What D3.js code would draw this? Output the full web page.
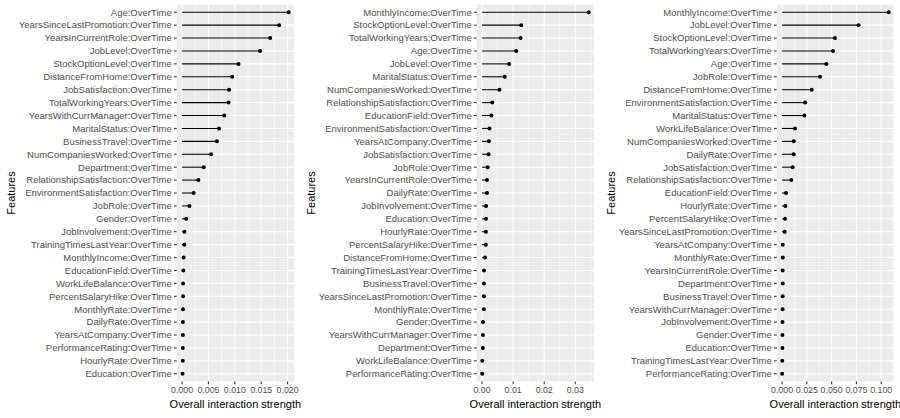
<!DOCTYPE html>
<html>
<head>
<meta charset="utf-8">
<script src="https://cdn.jsdelivr.net/npm/d3@7"></script>
<style>
  html, body { margin: 0; padding: 0; background: #fff; }
  svg { display: block; }
  text { font-family: "Liberation Sans", Arial, sans-serif; }
</style>
</head>
<body>
<svg id="chart" width="900" height="418"></svg>
<script>
// ---- Data ----
const features1 = ["Age:OverTime","YearsSinceLastPromotion:OverTime","YearsInCurrentRole:OverTime","JobLevel:OverTime","StockOptionLevel:OverTime","DistanceFromHome:OverTime","JobSatisfaction:OverTime","TotalWorkingYears:OverTime","YearsWithCurrManager:OverTime","MaritalStatus:OverTime","BusinessTravel:OverTime","NumCompaniesWorked:OverTime","Department:OverTime","RelationshipSatisfaction:OverTime","EnvironmentSatisfaction:OverTime","JobRole:OverTime","Gender:OverTime","JobInvolvement:OverTime","TrainingTimesLastYear:OverTime","MonthlyIncome:OverTime","EducationField:OverTime","WorkLifeBalance:OverTime","PercentSalaryHike:OverTime","MonthlyRate:OverTime","DailyRate:OverTime","YearsAtCompany:OverTime","PerformanceRating:OverTime","HourlyRate:OverTime","Education:OverTime"];
const values1 = [0.0202,0.0184,0.0167,0.0148,0.0107,0.0095,0.0089,0.0088,0.0080,0.0070,0.0066,0.0055,0.0041,0.0031,0.0022,0.0014,0.0008,0.00045,0.00043,0.0003,0.00025,0.0002,0.00019,0.00018,0.00017,0.00016,0.00015,0.00014,0.0001];

const features2 = ["MonthlyIncome:OverTime","StockOptionLevel:OverTime","TotalWorkingYears:OverTime","Age:OverTime","JobLevel:OverTime","MaritalStatus:OverTime","NumCompaniesWorked:OverTime","RelationshipSatisfaction:OverTime","EducationField:OverTime","EnvironmentSatisfaction:OverTime","YearsAtCompany:OverTime","JobSatisfaction:OverTime","JobRole:OverTime","YearsInCurrentRole:OverTime","DailyRate:OverTime","JobInvolvement:OverTime","Education:OverTime","HourlyRate:OverTime","PercentSalaryHike:OverTime","DistanceFromHome:OverTime","TrainingTimesLastYear:OverTime","BusinessTravel:OverTime","YearsSinceLastPromotion:OverTime","MonthlyRate:OverTime","Gender:OverTime","YearsWithCurrManager:OverTime","Department:OverTime","WorkLifeBalance:OverTime","PerformanceRating:OverTime"];
const values2 = [0.0343,0.0126,0.0124,0.0110,0.0087,0.0073,0.0056,0.0033,0.0030,0.0024,0.0022,0.0021,0.0018,0.0016,0.0016,0.0013,0.00127,0.00125,0.00122,0.00096,0.00064,0.0006,0.00058,0.00056,0.00032,0.0003,0.00025,0.0001,0.00005];

const features3 = ["MonthlyIncome:OverTime","JobLevel:OverTime","StockOptionLevel:OverTime","TotalWorkingYears:OverTime","Age:OverTime","JobRole:OverTime","DistanceFromHome:OverTime","EnvironmentSatisfaction:OverTime","MaritalStatus:OverTime","WorkLifeBalance:OverTime","NumCompaniesWorked:OverTime","DailyRate:OverTime","JobSatisfaction:OverTime","RelationshipSatisfaction:OverTime","EducationField:OverTime","HourlyRate:OverTime","PercentSalaryHike:OverTime","YearsSinceLastPromotion:OverTime","YearsAtCompany:OverTime","MonthlyRate:OverTime","YearsInCurrentRole:OverTime","Department:OverTime","BusinessTravel:OverTime","YearsWithCurrManager:OverTime","JobInvolvement:OverTime","Gender:OverTime","Education:OverTime","TrainingTimesLastYear:OverTime","PerformanceRating:OverTime"];
const values3 = [0.1075,0.0772,0.0534,0.0514,0.0447,0.0383,0.0299,0.0232,0.0225,0.0131,0.0118,0.0117,0.0107,0.0094,0.0040,0.0034,0.0030,0.0027,0.0007,0.0007,0.0006,0.0007,0.0006,0.0006,0.0005,0.0004,0.0004,0.0002,0.0001];

const ticks1 = [0, 0.005, 0.010, 0.015, 0.020];
const tickLabels1 = ["0.000","0.005","0.010","0.015","0.020"];
const ticks2 = [0, 0.01, 0.02, 0.03];
const tickLabels2 = ["0.00","0.01","0.02","0.03"];
const ticks3 = [0, 0.025, 0.050, 0.075, 0.100];
const tickLabels3 = ["0.000","0.025","0.050","0.075","0.100"];

const xTitle = "Overall interaction strength";
const yTitle = "Features";

// ---- Layout ----
const svg = d3.select("#chart");
const panelW = 300;
const plotL = 176.7, plotR = 294, plotT = 4.5, plotB = 381.5;

const panels = [
  {features: features1, values: values1, ticks: ticks1, labels: tickLabels1},
  {features: features2, values: values2, ticks: ticks2, labels: tickLabels2},
  {features: features3, values: values3, ticks: ticks3, labels: tickLabels3}
];

panels.forEach((p, i) => {
  const g = svg.append("g")
    .attr("transform", `translate(${i * panelW},0)`);

  const maxV = d3.max(p.values);
  const pad = maxV * 0.05;
  const x = d3.scaleLinear().domain([0 - pad, maxV + pad]).range([plotL, plotR]);
  const y = d3.scalePoint().domain(p.features).range([plotT, plotB]).padding(0.6);

  // panel background
  g.append("rect").attr("x", plotL).attr("y", plotT)
    .attr("width", plotR - plotL).attr("height", plotB - plotT)
    .attr("fill", "#EBEBEB");

  // minor gridlines
  const step = p.ticks[1] - p.ticks[0];
  const minors = [];
  for (let k = 0; k < p.ticks.length + 1; k++) {
    const v = p.ticks[0] + step * (k - 0.5);
    if (x(v) > plotL && x(v) < plotR) minors.push(v);
  }
  g.selectAll(".minor").data(minors).join("line")
    .attr("x1", d => x(d)).attr("x2", d => x(d))
    .attr("y1", plotT).attr("y2", plotB)
    .attr("stroke", "#fff").attr("stroke-width", 0.55);

  // major gridlines
  g.selectAll(".majx").data(p.ticks).join("line")
    .attr("x1", d => x(d)).attr("x2", d => x(d))
    .attr("y1", plotT).attr("y2", plotB)
    .attr("stroke", "#fff").attr("stroke-width", 1.07);
  g.selectAll(".majy").data(p.features).join("line")
    .attr("x1", plotL).attr("x2", plotR)
    .attr("y1", d => y(d)).attr("y2", d => y(d))
    .attr("stroke", "#fff").attr("stroke-width", 1.07);

  // segments
  const data = p.features.map((f, k) => ({f, v: p.values[k]}));
  g.selectAll(".seg").data(data).join("line")
    .attr("x1", x(0)).attr("x2", d => x(d.v))
    .attr("y1", d => y(d.f)).attr("y2", d => y(d.f))
    .attr("stroke", "#000").attr("stroke-width", 1.07);

  // points
  g.selectAll(".pt").data(data).join("circle")
    .attr("cx", d => x(d.v)).attr("cy", d => y(d.f))
    .attr("r", 2).attr("fill", "#000");

  // y axis ticks + labels
  g.selectAll(".ytick").data(p.features).join("line")
    .attr("x1", plotL - 2.75).attr("x2", plotL)
    .attr("y1", d => y(d)).attr("y2", d => y(d))
    .attr("stroke", "#333").attr("stroke-width", 1.07);
  g.selectAll(".ylab").data(p.features).join("text")
    .attr("x", plotL - 5).attr("y", d => y(d))
    .attr("dy", "0.35em").attr("text-anchor", "end")
    .attr("font-size", 9.5).attr("fill", "#4D4D4D")
    .text(d => d);

  // x axis ticks + labels
  g.selectAll(".xtick").data(p.ticks).join("line")
    .attr("x1", d => x(d)).attr("x2", d => x(d))
    .attr("y1", plotB).attr("y2", plotB + 2.75)
    .attr("stroke", "#333").attr("stroke-width", 1.07);
  g.selectAll(".xlab").data(p.ticks).join("text")
    .attr("x", d => x(d)).attr("y", plotB + 5.5)
    .attr("dy", "0.71em").attr("text-anchor", "middle")
    .attr("font-size", 8.8).attr("fill", "#4D4D4D")
    .text((d, k) => p.labels[k]);

  // axis titles
  g.append("text")
    .attr("x", (plotL + plotR) / 2).attr("y", 408)
    .attr("text-anchor", "middle").attr("font-size", 11).attr("fill", "#000")
    .text(xTitle);
  g.append("text")
    .attr("transform", `translate(15,${(plotT + plotB) / 2}) rotate(-90)`)
    .attr("text-anchor", "middle").attr("font-size", 11).attr("fill", "#000")
    .text(yTitle);
});
</script>
</body>
</html>
